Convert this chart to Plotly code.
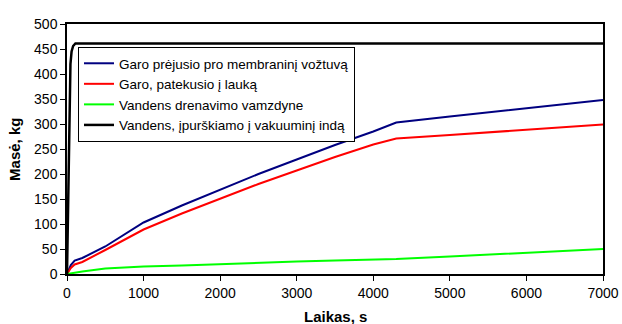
import plotly.graph_objects as go

# time (s)
t_main = [0, 20, 50, 100, 200, 500, 1000, 1500, 2000, 2500, 3000, 3500, 4000, 4300, 5000, 6000, 7000]
garo_membr = [0, 8, 18, 27, 32, 55, 103, 137, 169, 200, 229, 258, 285, 303, 315, 332, 348]
garo_lauka = [0, 5, 12, 19, 24, 48, 89, 121, 151, 180, 207, 234, 259, 271, 278, 289, 299]
vanden_dren = [0, 0.5, 1.5, 3, 5, 11, 15, 17, 20, 22, 25, 27, 29, 30, 35, 42, 50]

t_inj = [0, 15, 30, 45, 60, 80, 110, 7000]
vanden_inj = [0, 150, 330, 420, 445, 456, 461, 461]

names = [
    "Garo prėjusio pro membraninį vožtuvą",
    "Garo, patekusio į lauką",
    "Vandens drenavimo vamzdyne",
    "Vandens, įpurškiamo į vakuuminį indą",
]
colors = ["#000080", "#ff0000", "#00ff00", "#000000"]
x_title = "Laikas, s"
y_title = "Masė, kg"

fig = go.Figure()
fig.add_trace(go.Scatter(x=t_main, y=garo_membr, mode="lines", name=names[0],
                         line=dict(color=colors[0], width=2)))
fig.add_trace(go.Scatter(x=t_main, y=garo_lauka, mode="lines", name=names[1],
                         line=dict(color=colors[1], width=2)))
fig.add_trace(go.Scatter(x=t_main, y=vanden_dren, mode="lines", name=names[2],
                         line=dict(color=colors[2], width=2)))
fig.add_trace(go.Scatter(x=t_inj, y=vanden_inj, mode="lines", name=names[3],
                         line=dict(color=colors[3], width=2.5)))

font_family = "Liberation Sans, Arial, sans-serif"
fig.update_layout(
    width=622, height=324,
    margin=dict(l=67, r=19, t=24, b=50),
    paper_bgcolor="white", plot_bgcolor="white",
    font=dict(family=font_family, size=14, color="black"),
    showlegend=True,
    legend=dict(
        x=0.0205, y=0.908, xanchor="left", yanchor="top",
        bordercolor="black", borderwidth=1, bgcolor="white",
        font=dict(size=13.5, family=font_family, color="black"),
        tracegroupgap=0,
    ),
    xaxis=dict(
        range=[0, 7000], tickvals=[0, 1000, 2000, 3000, 4000, 5000, 6000, 7000],
        showgrid=False, zeroline=False, automargin=False,
        showline=True, linecolor="black", linewidth=1.5, mirror=True,
        ticks="outside", ticklen=5, tickcolor="black", tickwidth=1,
    ),
    yaxis=dict(
        range=[0, 500], tickvals=[0, 50, 100, 150, 200, 250, 300, 350, 400, 450, 500],
        showgrid=False, zeroline=False, automargin=False,
        showline=True, linecolor="black", linewidth=1.5, mirror=True,
        ticks="outside", ticklen=5, tickcolor="black", tickwidth=1,
    ),
    annotations=[
        dict(text="<b>" + x_title + "</b>", xref="paper", yref="paper",
             x=0.5, y=-0.168, xanchor="center", yanchor="middle",
             showarrow=False, font=dict(size=15, family=font_family)),
        dict(text="<b>" + y_title + "</b>", xref="paper", yref="paper",
             x=-0.099, y=0.5, xanchor="center", yanchor="middle", textangle=-90,
             showarrow=False, font=dict(size=15, family=font_family)),
    ],
)

fig.write_html("out.html")
